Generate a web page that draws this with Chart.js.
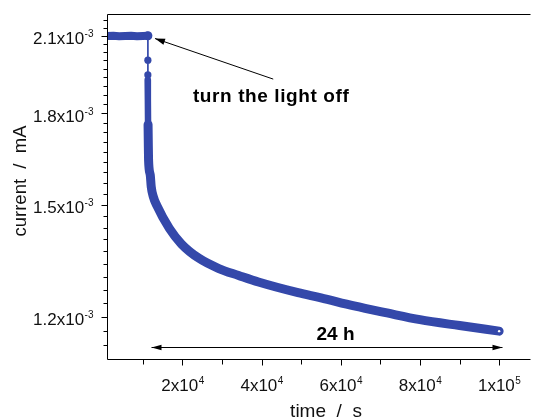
<!DOCTYPE html>
<html>
<head>
<meta charset="utf-8">
<script src="https://cdn.jsdelivr.net/npm/chart.js@4/dist/chart.umd.min.js"></script>
<style>
html,body{margin:0;padding:0;background:#fff;overflow:hidden;}
#c{display:block;}
</style>
</head>
<body>
<canvas id="c" width="535" height="420"></canvas>
<script>
// ---- data (time in s, current in mA) ----
const flatTime    = [925, 2500, 4000, 5500, 7000, 8500, 10000, 11250];
const flatCurrent = [2.100e-3, 2.101e-3, 2.099e-3, 2.100e-3, 2.101e-3, 2.099e-3, 2.100e-3, 2.101e-3];

const dropTime    = [11250, 11250, 11250];
const dropCurrent = [2.001e-3, 1.943e-3, 1.924e-3];

// first, sparse part of the decay (right after switching off)
const columnTime    = [11200, 11250, 11300, 11350];
const columnCurrent = [1.924e-3, 1.850e-3, 1.760e-3, 1.707e-3];

const decayTime    = [11300, 11350, 11425, 11850, 12100, 12630, 13500, 16675, 19750, 24180, 29180, 34180, 39180, 49180, 55000, 63350, 71680, 80000, 90000, 100000];
const decayCurrent = [1.760e-3, 1.707e-3, 1.640e-3, 1.592e-3, 1.555e-3, 1.524e-3, 1.498e-3, 1.431e-3, 1.387e-3, 1.348e-3, 1.321e-3, 1.303e-3, 1.286e-3, 1.259e-3, 1.246e-3, 1.226e-3, 1.209e-3, 1.193e-3, 1.179e-3, 1.166e-3];

// ---- axes / ticks ----
const xMajorTicks = [20000, 40000, 60000, 80000, 100000];
const xMajorLabels = [['2x10','4'], ['4x10','4'], ['6x10','4'], ['8x10','4'], ['1x10','5']];
const xMinorTicks = [10000, 30000, 50000, 70000, 90000];
const yMajorTicks = [1.2e-3, 1.5e-3, 1.8e-3, 2.1e-3];
const yMajorLabels = [['1.2x10','-3'], ['1.5x10','-3'], ['1.8x10','-3'], ['2.1x10','-3']];
const xTitle = 'time  /  s';
const yTitle = 'current  /  mA';
const arrowNote = 'turn the light off';
const spanNote = '24 h';

const pts = (xs, ys) => xs.map((t, i) => ({x: t, y: ys[i]}));

const BLUE = 'rgb(52,72,170)';
const FONT = '"Liberation Sans", Arial, sans-serif';

// minor y ticks: 8 between each labelled pair (step 0.3e-3/9)
function yMinor(min, max) {
  const out = [];
  const step = 0.3e-3 / 9;
  for (let k = -40; k <= 40; k++) {
    const v = 1.2e-3 + k * step;
    if (v >= min && v <= max) out.push(v);
  }
  return out;
}

function sci(ctx, main, sup, x, baseline, align) {
  ctx.font = '17px ' + FONT;
  const w1 = ctx.measureText(main).width;
  ctx.font = '10px ' + FONT;
  const w2 = ctx.measureText(sup).width;
  let x0;
  if (align === 'right') x0 = x - w1 - w2;
  else x0 = x - (w1 + w2) / 2;
  ctx.textAlign = 'left';
  ctx.textBaseline = 'alphabetic';
  ctx.font = '17px ' + FONT;
  ctx.fillText(main, x0, baseline);
  ctx.font = '10px ' + FONT;
  ctx.fillText(sup, x0 + w1 + 0.5, baseline - 7);
}

function arrowHead(ctx, x1, y1, x2, y2, len, half) {
  const a = Math.atan2(y2 - y1, x2 - x1);
  ctx.beginPath();
  ctx.moveTo(x2, y2);
  ctx.lineTo(x2 - len * Math.cos(a) + half * Math.sin(a), y2 - len * Math.sin(a) - half * Math.cos(a));
  ctx.lineTo(x2 - len * Math.cos(a) - half * Math.sin(a), y2 - len * Math.sin(a) + half * Math.cos(a));
  ctx.closePath();
  ctx.fill();
}

const notes = {
  lightArrow: {from: [42925, 1.927e-3], to: [13050, 2.0894e-3]},
  lightText: {at: [42400, 1.841e-3]},
  spanArrow: {from: [12175, 1.1303e-3], to: [100850, 1.1303e-3]},
  spanText: {at: [58650, 1.1455e-3]}
};

const decor = {
  id: 'decor',
  afterDraw(chart) {
    const {ctx, chartArea: a, scales: {x, y}} = chart;
    ctx.save();
    ctx.strokeStyle = '#000';
    ctx.fillStyle = '#000';
    ctx.lineWidth = 1;
    const L = a.left + 0.5, B = a.bottom + 0.5;
    ctx.beginPath();
    ctx.moveTo(L, a.top + 0.5); ctx.lineTo(L, B); ctx.lineTo(a.right, B);
    ctx.moveTo(L, a.top + 0.5); ctx.lineTo(a.right, a.top + 0.5);
    ctx.stroke();
    ctx.beginPath();
    yMajorTicks.forEach(v => { const p = Math.round(y.getPixelForValue(v)) + 0.5; ctx.moveTo(L - 6, p); ctx.lineTo(L, p); });
    yMinor(y.min, y.max).forEach(v => {
      if (yMajorTicks.some(m => Math.abs(m - v) < 1e-9)) return;
      const p = Math.round(y.getPixelForValue(v)) + 0.5; ctx.moveTo(L - 4, p); ctx.lineTo(L, p);
    });
    xMajorTicks.forEach(v => { const p = Math.round(x.getPixelForValue(v)) + 0.5; ctx.moveTo(p, B); ctx.lineTo(p, B + 6); });
    xMinorTicks.forEach(v => { const p = Math.round(x.getPixelForValue(v)) + 0.5; ctx.moveTo(p, B); ctx.lineTo(p, B + 5); });
    ctx.stroke();
    ctx.fillStyle = '#111';
    yMajorTicks.forEach((v, i) => {
      const p = y.getPixelForValue(v);
      sci(ctx, yMajorLabels[i][0], yMajorLabels[i][1], 93, p + 8.5, 'right');
    });
    xMajorTicks.forEach((v, i) => {
      const p = x.getPixelForValue(v);
      sci(ctx, xMajorLabels[i][0], xMajorLabels[i][1], p, 390.5, 'center');
    });
    ctx.font = '19px ' + FONT;
    ctx.textAlign = 'center';
    ctx.textBaseline = 'alphabetic';
    ctx.fillText(xTitle, 326, 417);
    ctx.save();
    ctx.font = '18.5px ' + FONT;
    ctx.translate(26, 181);
    ctx.rotate(-Math.PI / 2);
    ctx.fillText(yTitle, 0, 0);
    ctx.restore();
    ctx.fillStyle = '#000';
    const P = c => [x.getPixelForValue(c[0]), y.getPixelForValue(c[1])];
    let f = P(notes.lightArrow.from), t = P(notes.lightArrow.to);
    ctx.beginPath(); ctx.moveTo(f[0], f[1]); ctx.lineTo(t[0], t[1]); ctx.stroke();
    arrowHead(ctx, f[0], f[1], t[0], t[1], 10, 3.2);
    f = P(notes.spanArrow.from); t = P(notes.spanArrow.to);
    const yy = Math.round(f[1]) + 0.5;
    ctx.beginPath(); ctx.moveTo(f[0], yy); ctx.lineTo(t[0], yy); ctx.stroke();
    arrowHead(ctx, t[0], yy, f[0], yy, 10, 2.8);
    arrowHead(ctx, f[0], yy, t[0], yy, 10, 2.8);
    ctx.textAlign = 'center';
    ctx.font = 'bold 19px ' + FONT;
    try { ctx.letterSpacing = '0.6px'; } catch (e) {}
    let q = P(notes.lightText.at);
    ctx.fillText(arrowNote, q[0], q[1]);
    try { ctx.letterSpacing = '0px'; } catch (e) {}
    ctx.font = 'bold 19px ' + FONT;
    q = P(notes.spanText.at);
    ctx.fillText(spanNote, q[0], q[1]);
    ctx.restore();
  }
};

const lastIdx = decayTime.length - 1;

new Chart(document.getElementById('c'), {
  type: 'scatter',
  data: {
    datasets: [
      {
        label: 'decay',
        data: pts(decayTime, decayCurrent),
        showLine: true,
        borderColor: BLUE,
        borderWidth: 9,
        borderCapStyle: 'round',
        borderJoinStyle: 'round',
        cubicInterpolationMode: 'monotone',
        pointRadius: c => (c.dataIndex === lastIdx ? 1.2 : 0),
        pointBackgroundColor: '#fff',
        pointBorderWidth: 0,
        clip: 0
      },
      {
        label: 'decay start',
        data: pts(columnTime, columnCurrent),
        showLine: true,
        borderColor: BLUE,
        borderWidth: 6.5,
        borderCapStyle: 'round',
        borderJoinStyle: 'round',
        pointRadius: 0,
        clip: 0
      },
      {
        label: 'light on',
        data: pts(flatTime, flatCurrent),
        showLine: true,
        borderColor: BLUE,
        borderWidth: 8,
        borderCapStyle: 'round',
        borderJoinStyle: 'round',
        pointRadius: c => (c.dataIndex === flatTime.length - 1 ? 4.5 : 0),
        pointBackgroundColor: BLUE,
        pointBorderWidth: 0,
        clip: 0
      },
      {
        label: 'switch off',
        data: [{x: flatTime[flatTime.length - 1], y: flatCurrent[flatCurrent.length - 1]}].concat(pts(dropTime, dropCurrent)),
        showLine: true,
        borderColor: BLUE,
        borderWidth: 1,
        pointRadius: [0, 3.6, 3.6, 0],
        pointBackgroundColor: BLUE,
        pointBorderColor: BLUE,
        pointBorderWidth: 0,
        clip: 0
      }
    ]
  },
  options: {
    responsive: false,
    animation: false,
    events: [],
    layout: {padding: {top: 14, right: 0, left: 0, bottom: 0}},
    plugins: {legend: {display: false}, tooltip: {enabled: false}},
    scales: {
      x: {
        type: 'linear',
        min: 925,
        max: 107925,
        ticks: {display: false},
        grid: {display: false},
        border: {display: false},
        afterFit: s => { s.height = 61; }
      },
      y: {
        type: 'logarithmic',
        min: 1.1030e-3,
        max: 2.194e-3,
        ticks: {display: false},
        grid: {display: false},
        border: {display: false},
        afterFit: s => { s.width = 107; }
      }
    }
  },
  plugins: [decor]
});
</script>
</body>
</html>
